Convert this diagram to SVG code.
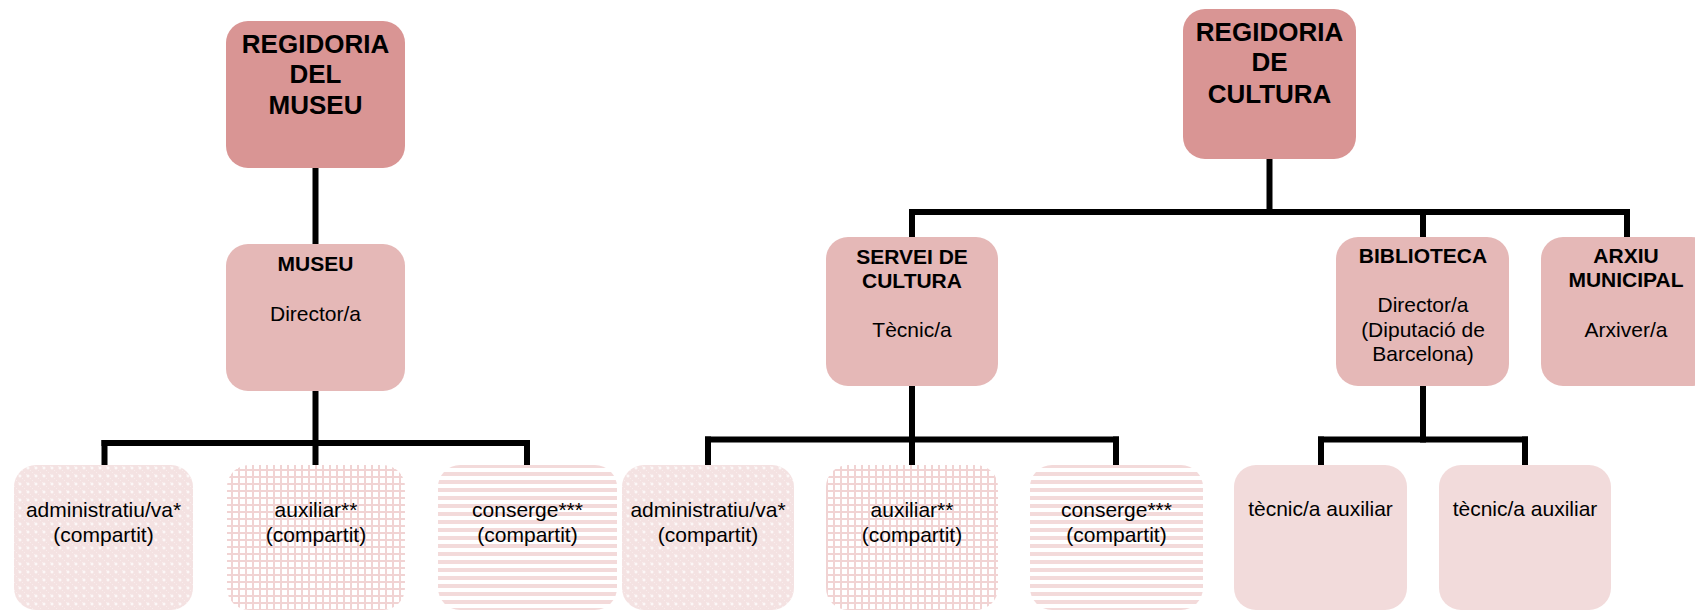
<svg xmlns="http://www.w3.org/2000/svg" width="1695" height="611" viewBox="0 0 1695 611">
<style>
.top{fill:#d99594}
.mid{fill:#e5b8b7}
.low{fill:#f2dbdb}
.dots{fill:url(#pDots)}
.grid{fill:url(#pGrid)}
.stripes{fill:url(#pStripes)}
text{font-family:"Liberation Sans",Arial,sans-serif;fill:#000;text-anchor:middle}
.t1{font-size:26px;font-weight:bold}
.t2{font-size:21px;font-weight:bold}
.t3{font-size:21px}
.conn line{stroke:#000;stroke-width:6;stroke-linecap:square}
</style>
<defs>
<pattern id="pDots" patternUnits="userSpaceOnUse" width="8" height="8">
<rect width="8" height="8" fill="#f4e2e2"/>
<rect x="0" y="0" width="1" height="1" fill="#f9eded"/>
<rect x="2" y="2" width="1" height="1" fill="#f9eded"/>
<rect x="6" y="6" width="1" height="1" fill="#f9eded"/>
<rect x="3.5" y="2.5" width="1" height="3" fill="#ffffff"/>
<rect x="2.5" y="3.5" width="3" height="1" fill="#ffffff"/>
</pattern>
<pattern id="pGrid" patternUnits="userSpaceOnUse" width="7" height="7">
<rect width="7" height="7" fill="#ffffff"/>
<rect width="7" height="2" fill="#f1d3d3"/>
<rect width="2" height="7" fill="#f1d3d3"/>
</pattern>
<pattern id="pStripes" patternUnits="userSpaceOnUse" width="8" height="8">
<rect width="8" height="8" fill="#ffffff"/>
<rect width="8" height="4" fill="#f3dada"/>
</pattern>
</defs>
<g id="connectors" class="conn">
<line x1="315.5" y1="168" x2="315.5" y2="244"/>
<line x1="315.5" y1="391" x2="315.5" y2="465"/>
<line x1="104.5" y1="443" x2="527" y2="443"/>
<line x1="104.5" y1="443" x2="104.5" y2="465"/>
<line x1="527" y1="443" x2="527" y2="465"/>
<line x1="1269.5" y1="159" x2="1269.5" y2="212"/>
<line x1="912" y1="212" x2="1627" y2="212"/>
<line x1="912" y1="212" x2="912" y2="237"/>
<line x1="1423" y1="212" x2="1423" y2="237"/>
<line x1="1627" y1="212" x2="1627" y2="237"/>
<line x1="912" y1="386" x2="912" y2="465"/>
<line x1="708" y1="439.5" x2="1116" y2="439.5"/>
<line x1="708" y1="439.5" x2="708" y2="465"/>
<line x1="1116" y1="439.5" x2="1116" y2="465"/>
<line x1="1423" y1="386" x2="1423" y2="439.5"/>
<line x1="1321" y1="439.5" x2="1525" y2="439.5"/>
<line x1="1321" y1="439.5" x2="1321" y2="465"/>
<line x1="1525" y1="439.5" x2="1525" y2="465"/>
</g>
<g id="regidoria-museu">
<rect class="top" x="226" y="21" width="179" height="147" rx="22"/>
<text class="t1" x="315.5" y="53">REGIDORIA</text>
<text class="t1" x="315.5" y="83">DEL</text>
<text class="t1" x="315.5" y="114">MUSEU</text>
</g>
<g id="museu">
<rect class="mid" x="226" y="244" width="179" height="147" rx="22"/>
<text class="t2" x="315.5" y="271">MUSEU</text>
<text class="t3" x="315.5" y="321">Director/a</text>
</g>
<g id="museu-administratiu">
<rect class="dots" x="14" y="465" width="179" height="145" rx="22"/>
<text class="t3" x="103.5" y="517">administratiu/va*</text>
<text class="t3" x="103.5" y="542">(compartit)</text>
</g>
<g id="museu-auxiliar">
<rect class="grid" x="227" y="465" width="178" height="145" rx="22"/>
<text class="t3" x="316" y="517">auxiliar**</text>
<text class="t3" x="316" y="542">(compartit)</text>
</g>
<g id="museu-conserge">
<rect class="stripes" x="438" y="465" width="179" height="145" rx="22"/>
<text class="t3" x="527.5" y="517">conserge***</text>
<text class="t3" x="527.5" y="542">(compartit)</text>
</g>
<g id="regidoria-cultura">
<rect class="top" x="1183" y="9" width="173" height="150" rx="22"/>
<text class="t1" x="1269.5" y="41">REGIDORIA</text>
<text class="t1" x="1269.5" y="71">DE</text>
<text class="t1" x="1269.5" y="103">CULTURA</text>
</g>
<g id="servei-cultura">
<rect class="mid" x="826" y="237" width="172" height="149" rx="22"/>
<text class="t2" x="912" y="264">SERVEI DE</text>
<text class="t2" x="912" y="288">CULTURA</text>
<text class="t3" x="912" y="337">Tècnic/a</text>
</g>
<g id="biblioteca">
<rect class="mid" x="1336" y="237" width="173" height="149" rx="22"/>
<text class="t2" x="1423" y="263">BIBLIOTECA</text>
<text class="t3" x="1423" y="312">Director/a</text>
<text class="t3" x="1423" y="337">(Diputació de</text>
<text class="t3" x="1423" y="361">Barcelona)</text>
</g>
<g id="arxiu">
<rect class="mid" x="1541" y="237" width="172" height="149" rx="22"/>
<text class="t2" x="1626" y="263">ARXIU</text>
<text class="t2" x="1626" y="287">MUNICIPAL</text>
<text class="t3" x="1626" y="337">Arxiver/a</text>
</g>
<g id="cultura-administratiu">
<rect class="dots" x="622" y="465" width="172" height="145" rx="22"/>
<text class="t3" x="708" y="517">administratiu/va*</text>
<text class="t3" x="708" y="542">(compartit)</text>
</g>
<g id="cultura-auxiliar">
<rect class="grid" x="826" y="465" width="172" height="145" rx="22"/>
<text class="t3" x="912" y="517">auxiliar**</text>
<text class="t3" x="912" y="542">(compartit)</text>
</g>
<g id="cultura-conserge">
<rect class="stripes" x="1030" y="465" width="173" height="145" rx="22"/>
<text class="t3" x="1116.5" y="517">conserge***</text>
<text class="t3" x="1116.5" y="542">(compartit)</text>
</g>
<g id="biblioteca-tecnic-1">
<rect class="low" x="1234" y="465" width="173" height="145" rx="22"/>
<text class="t3" x="1320.5" y="516">tècnic/a auxiliar</text>
</g>
<g id="biblioteca-tecnic-2">
<rect class="low" x="1439" y="465" width="172" height="145" rx="22"/>
<text class="t3" x="1525" y="516">tècnic/a auxiliar</text>
</g>
</svg>
